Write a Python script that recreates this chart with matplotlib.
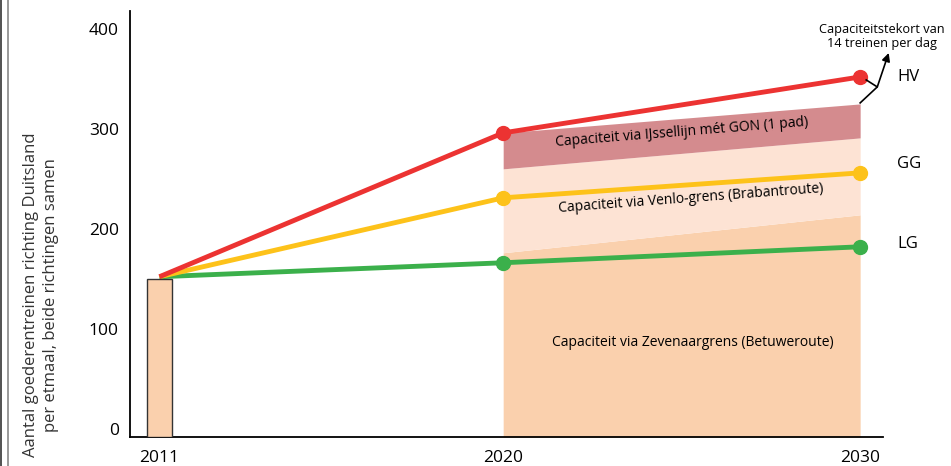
import numpy as np
import matplotlib.pyplot as plt
from matplotlib.lines import Line2D

plt.rcParams['font.family'] = ['Open Sans', 'DejaVu Sans']

years = [2011, 2020, 2030]
hv = [152, 296, 352]   # hoog scenario
gg = [152, 231, 256]   # gemiddeld
lg = [152, 166, 182]   # laag
bar_2011 = 150

band_years = [2020, 2030]
cap_zevenaar = [176, 214]
cap_venlo = [260, 291]
cap_ijssel = [296, 325]

series_labels = ['HV', 'GG', 'LG']
year_ticks = [2011, 2020, 2030]
y_ticks = [0, 100, 200, 300, 400]

red = '#EC3332'
yellow = '#FDC21A'
green = '#3BB04B'


# schematische tijdas: periode 2011-2020 iets breder getekend dan 2020-2030
def fwd(x):
    x = np.asarray(x, dtype=float)
    return np.where(x < 2020, (x - 2020) * 1.07, x - 2020)


def inv(p):
    p = np.asarray(p, dtype=float)
    return np.where(p < 0, 2020 + p / 1.07, 2020 + p)


fig = plt.figure(figsize=(9.51, 4.66), dpi=100)
ax = fig.add_axes([130 / 951, 1 - 437 / 466, 753 / 951, 426 / 466])
ax.set_xscale('function', functions=(fwd, inv))
ax.set_xlim(2010.23, 2030.64)
ax.set_ylim(-8.4, 418)
y0 = ax.get_ylim()[0]

# capaciteitsbanden
ax.fill_between(band_years, y0, cap_zevenaar, color='#FAD0AD', lw=0, zorder=1)
ax.fill_between(band_years, cap_zevenaar, cap_venlo, color='#FDE3D4', lw=0, zorder=1)
ax.fill_between(band_years, cap_venlo, cap_ijssel, color='#D48B8E', lw=0, zorder=1)

# lijnen
for vals, col in [(lg, green), (gg, yellow), (hv, red)]:
    ax.plot(years, vals, color=col, lw=3.5, zorder=3, solid_capstyle='butt')
    ax.plot(years[1:], vals[1:], 'o', color=col, ms=10, zorder=4)

ax.bar([2011], [bar_2011 - y0], bottom=y0, width=0.66, color='#FAD0AD',
       edgecolor='#333333', lw=1, zorder=5)

# labels scenario's
ax.text(2031.04, 352, series_labels[0], fontsize=12, va='center', ha='left', clip_on=False)
ax.text(2031.04, 265, series_labels[1], fontsize=12, va='center', ha='left', clip_on=False)
ax.text(2031.04, 185, series_labels[2], fontsize=12, va='center', ha='left', clip_on=False)

# band teksten
ax.text(2025.0, 297, 'Capaciteit via IJssellijn mét GON (1 pad)', fontsize=10,
        rotation=4.6, ha='center', va='center', zorder=6)
ax.text(2025.25, 230, 'Capaciteit via Venlo-grens (Brabantroute)', fontsize=10,
        rotation=4.3, ha='center', va='center', zorder=6)
ax.text(2025.3, 86, 'Capaciteit via Zevenaargrens (Betuweroute)', fontsize=10,
        ha='center', va='center', zorder=6)

# tekort annotatie
ax.plot([2030.17, 2030.48, 2030.0], [349, 342, 326], color='black', lw=1.2,
        clip_on=False, zorder=6)
ax.annotate('', xy=(2030.8, 376), xytext=(2030.48, 342),
            arrowprops=dict(arrowstyle='-|>', color='black', lw=1.2, mutation_scale=12,
                            shrinkA=0, shrinkB=0),
            annotation_clip=False)
ax.text(2030.62, 392, 'Capaciteitstekort van\n14 treinen per dag', fontsize=9.2,
        ha='center', va='center', linespacing=1.1, clip_on=False)

ax.set_xticks(year_ticks)
ax.set_xticklabels([str(y) for y in year_ticks])
ax.set_yticks(y_ticks)
ax.minorticks_off()
ax.tick_params(length=0, labelsize=12.5)
ax.tick_params(axis='x', pad=9)
ax.tick_params(axis='y', pad=8)
for s in ['top', 'right']:
    ax.spines[s].set_visible(False)
for s in ['left', 'bottom']:
    ax.spines[s].set_linewidth(1.3)

fig.text(41 / 951, 1 - 295 / 466,
         'Aantal goederentreinen richting Duitsland\nper etmaal, beide richtingen samen',
         rotation=90, ha='center', va='center', fontsize=12, color='#333333',
         linespacing=1.3)

fig.add_artist(Line2D([0.001, 0.001], [0, 1], color='#333333', lw=1.2))
fig.add_artist(Line2D([8 / 951, 8 / 951], [0, 1], color='#888888', lw=1.2))

fig.savefig('out.png', dpi=100)
